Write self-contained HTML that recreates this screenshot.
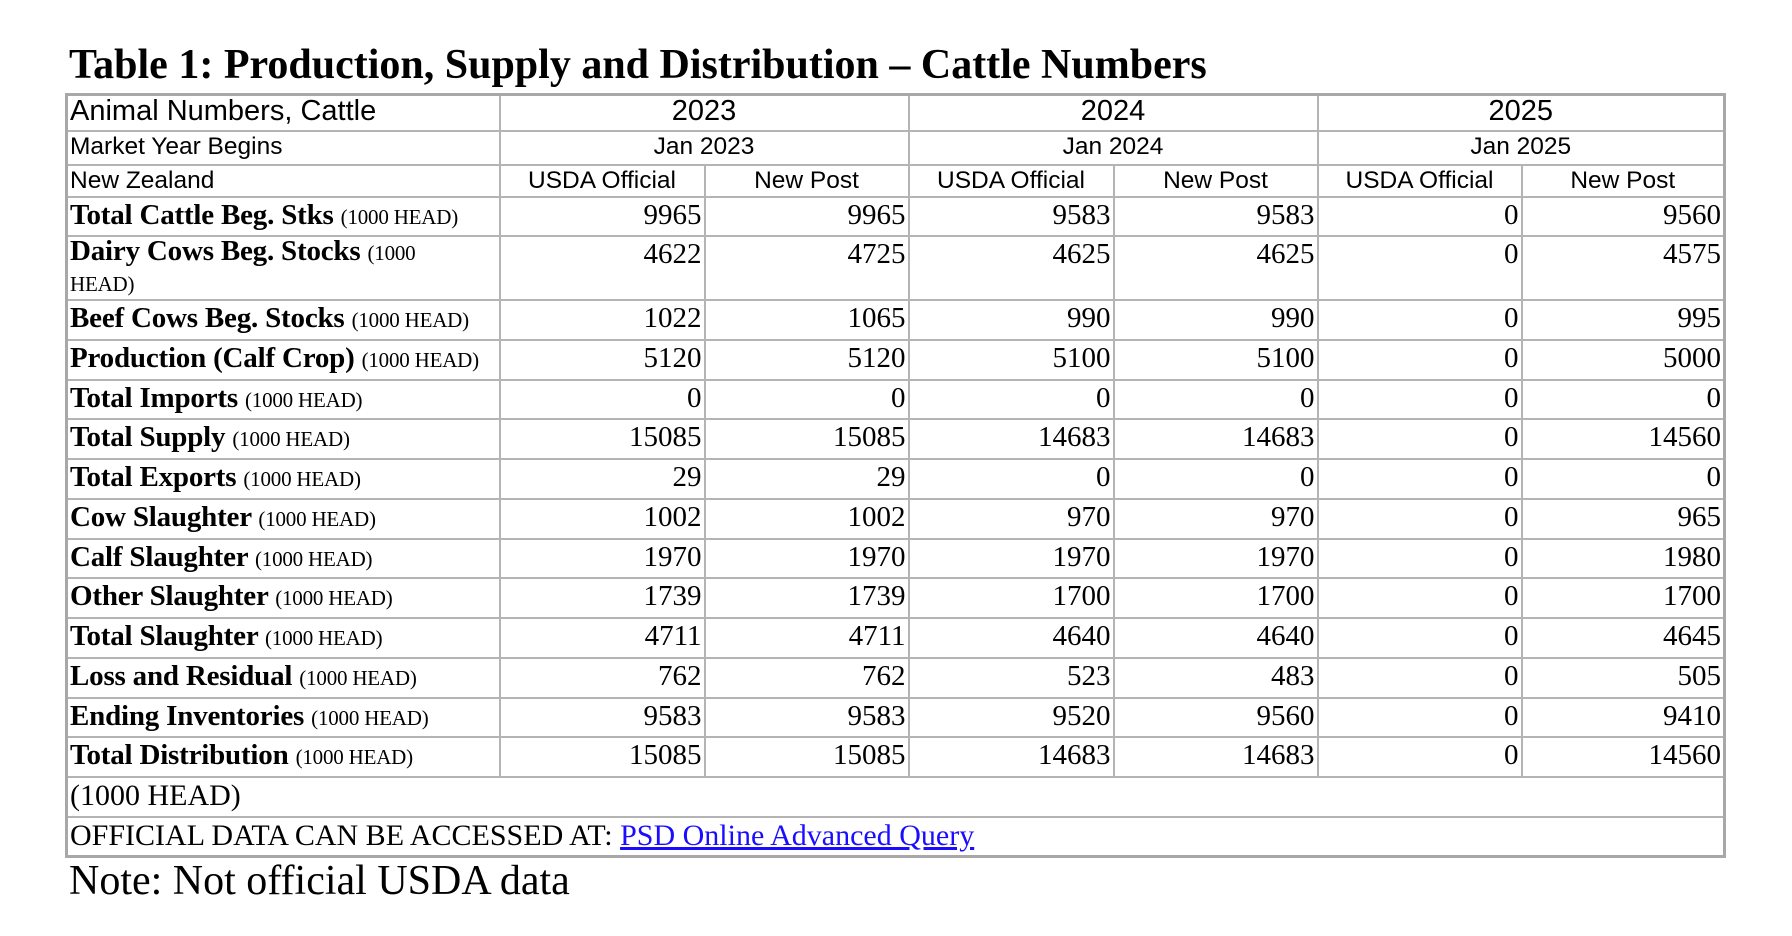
<!DOCTYPE html>
<html><head><meta charset="utf-8">
<style>
body{margin:0;background:#fff;width:1792px;height:936px;overflow:hidden;position:relative;font-family:"Liberation Serif",serif;color:#000}
.title{position:absolute;left:69px;top:42px;font-weight:bold;font-size:42px;line-height:46px;white-space:nowrap}
table{position:absolute;left:65px;top:93px;border-collapse:collapse;table-layout:fixed;border:3px solid #a8a8a8}
td{border:2px solid #b4b4b4;padding:0 2px;vertical-align:top;overflow:hidden}
.s{font-family:"Liberation Sans",sans-serif;font-size:25px;line-height:30px}
.c{text-align:center}
.l{font-size:29px;line-height:35px;font-weight:bold;letter-spacing:-0.2px}
.l small{font-size:21px;font-weight:normal}
.n{text-align:right;font-size:29px;line-height:35px}
.f{font-size:30px;line-height:36px}
a{color:#1a0dff;text-decoration:underline}
.note{position:absolute;left:69px;top:858px;font-size:42px;line-height:46px}
</style></head><body>
<div class="title">Table 1: Production, Supply and Distribution – Cattle Numbers</div>
<table>
<colgroup><col style="width:433px"><col style="width:205px"><col style="width:204px"><col style="width:205px"><col style="width:204px"><col style="width:204px"><col style="width:203px"></colgroup>
<tr style="height:36px"><td class="s" style="font-size:29px">Animal Numbers, Cattle</td><td class="s c" colspan="2" style="font-size:29px">2023</td><td class="s c" colspan="2" style="font-size:29px">2024</td><td class="s c" colspan="2" style="font-size:29px">2025</td></tr>
<tr style="height:34px"><td class="s" style="font-size:24.5px">Market Year Begins</td><td class="s c" colspan="2" style="font-size:24.5px">Jan 2023</td><td class="s c" colspan="2" style="font-size:24.5px">Jan 2024</td><td class="s c" colspan="2" style="font-size:24.5px">Jan 2025</td></tr>
<tr style="height:32px"><td class="s" style="font-size:24.5px">New Zealand</td><td class="s c" style="font-size:24.5px">USDA Official</td><td class="s c" style="font-size:24.5px">New Post</td><td class="s c" style="font-size:24.5px">USDA Official</td><td class="s c" style="font-size:24.5px">New Post</td><td class="s c" style="font-size:24.5px">USDA Official</td><td class="s c" style="font-size:24.5px">New Post</td></tr>
<tr style="height:39px"><td class="l">Total Cattle Beg. Stks <small>(1000 HEAD)</small></td><td class="n">9965</td><td class="n">9965</td><td class="n">9583</td><td class="n">9583</td><td class="n">0</td><td class="n">9560</td></tr>
<tr style="height:64px"><td class="l" style="line-height:29px">Dairy Cows Beg. Stocks <small>(1000<br>HEAD)</small></td><td class="n">4622</td><td class="n">4725</td><td class="n">4625</td><td class="n">4625</td><td class="n">0</td><td class="n">4575</td></tr>
<tr style="height:40px"><td class="l">Beef Cows Beg. Stocks <small>(1000 HEAD)</small></td><td class="n">1022</td><td class="n">1065</td><td class="n">990</td><td class="n">990</td><td class="n">0</td><td class="n">995</td></tr>
<tr style="height:40px"><td class="l">Production (Calf Crop) <small>(1000 HEAD)</small></td><td class="n">5120</td><td class="n">5120</td><td class="n">5100</td><td class="n">5100</td><td class="n">0</td><td class="n">5000</td></tr>
<tr style="height:39px"><td class="l">Total Imports <small>(1000 HEAD)</small></td><td class="n">0</td><td class="n">0</td><td class="n">0</td><td class="n">0</td><td class="n">0</td><td class="n">0</td></tr>
<tr style="height:40px"><td class="l">Total Supply <small>(1000 HEAD)</small></td><td class="n">15085</td><td class="n">15085</td><td class="n">14683</td><td class="n">14683</td><td class="n">0</td><td class="n">14560</td></tr>
<tr style="height:40px"><td class="l">Total Exports <small>(1000 HEAD)</small></td><td class="n">29</td><td class="n">29</td><td class="n">0</td><td class="n">0</td><td class="n">0</td><td class="n">0</td></tr>
<tr style="height:40px"><td class="l">Cow Slaughter <small>(1000 HEAD)</small></td><td class="n">1002</td><td class="n">1002</td><td class="n">970</td><td class="n">970</td><td class="n">0</td><td class="n">965</td></tr>
<tr style="height:39px"><td class="l">Calf Slaughter <small>(1000 HEAD)</small></td><td class="n">1970</td><td class="n">1970</td><td class="n">1970</td><td class="n">1970</td><td class="n">0</td><td class="n">1980</td></tr>
<tr style="height:40px"><td class="l">Other Slaughter <small>(1000 HEAD)</small></td><td class="n">1739</td><td class="n">1739</td><td class="n">1700</td><td class="n">1700</td><td class="n">0</td><td class="n">1700</td></tr>
<tr style="height:40px"><td class="l">Total Slaughter <small>(1000 HEAD)</small></td><td class="n">4711</td><td class="n">4711</td><td class="n">4640</td><td class="n">4640</td><td class="n">0</td><td class="n">4645</td></tr>
<tr style="height:40px"><td class="l">Loss and Residual <small>(1000 HEAD)</small></td><td class="n">762</td><td class="n">762</td><td class="n">523</td><td class="n">483</td><td class="n">0</td><td class="n">505</td></tr>
<tr style="height:39px"><td class="l">Ending Inventories <small>(1000 HEAD)</small></td><td class="n">9583</td><td class="n">9583</td><td class="n">9520</td><td class="n">9560</td><td class="n">0</td><td class="n">9410</td></tr>
<tr style="height:40px"><td class="l">Total Distribution <small>(1000 HEAD)</small></td><td class="n">15085</td><td class="n">15085</td><td class="n">14683</td><td class="n">14683</td><td class="n">0</td><td class="n">14560</td></tr>
<tr style="height:40px"><td class="f" colspan="7">(1000 HEAD)</td></tr>
<tr style="height:40px"><td class="f" colspan="7">OFFICIAL DATA CAN BE ACCESSED AT: <a>PSD Online Advanced Query</a></td></tr>
</table>
<div class="note">Note: Not official USDA data</div>
</body></html>
